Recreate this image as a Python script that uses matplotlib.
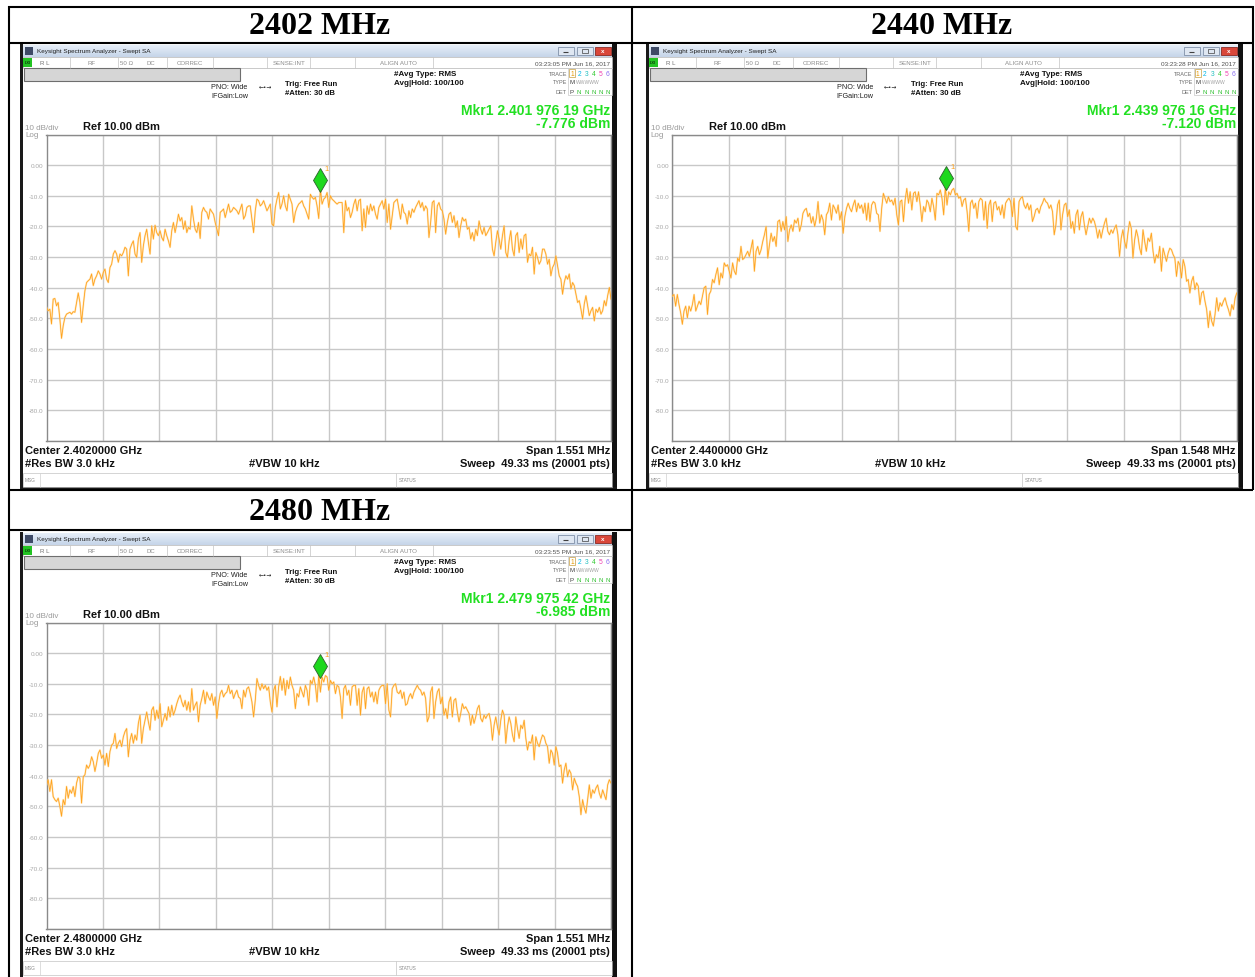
import numpy as np
import matplotlib
matplotlib.use('Agg')
import matplotlib.pyplot as plt
from matplotlib.patches import Rectangle
from matplotlib.colors import LinearSegmentedColormap
import matplotlib.transforms as mtransforms

titles = ['2402 MHz', '2440 MHz', '2480 MHz']
center_ghz = [2.402, 2.440, 2.480]
span_mhz = [1.551, 1.548, 1.551]
mkr_ghz = [2.40197619, 2.43997616, 2.47997542]
mkr_dbm = [-7.776, -7.120, -6.985]
mkr_text = ['2.401 976 19 GHz', '2.439 976 16 GHz', '2.479 975 42 GHz']
stamps = ['03:23:05 PM Jun 16, 2017', '03:23:28 PM Jun 16, 2017', '03:23:55 PM Jun 16, 2017']
ytick_vals = [10, 0, -10, -20, -30, -40, -50, -60, -70, -80, -90]
ytick_text = ['', '0.00', '-10.0', '-20.0', '-30.0', '-40.0', '-50.0', '-60.0', '-70.0', '-80.0', '']

trace_2402 = [
    -46.4, -47.5, -47.0, -51.8, -43.7, -43.5, -45.9, -44.8, -50.2, -56.5,
    -52.4, -49.7, -48.6, -48.3, -48.0, -48.6, -47.8, -48.0, -44.8, -41.7,
    -44.8, -51.3, -45.9, -41.0, -38.3, -37.7, -37.2, -35.5, -39.3, -37.2,
    -36.1, -34.5, -35.5, -37.2, -35.0, -33.9, -37.2, -38.3, -33.4, -32.3,
    -29.0, -27.9, -29.0, -31.7, -29.0, -29.6, -28.5, -26.8, -27.4, -36.1,
    -27.4, -25.8, -24.7, -29.0, -30.1, -24.1, -22.0, -31.7, -26.3, -23.0,
    -20.9, -25.2, -29.0, -19.8, -24.1, -19.6, -22.0, -23.0, -21.4, -23.6,
    -24.7, -20.9, -23.0, -24.7, -26.8, -21.4, -18.7, -22.0, -19.2, -16.0,
    -18.2, -17.1, -20.9, -18.2, -22.0, -20.3, -20.9, -13.3, -17.6, -20.9,
    -22.0, -18.7, -23.9, -15.4, -13.8, -14.9, -15.4, -17.6, -14.3, -15.2,
    -16.0, -18.7, -20.9, -23.0, -15.4, -14.9, -14.3, -17.1, -14.9, -12.7,
    -15.4, -14.9, -13.8, -14.3, -14.9, -16.0, -14.3, -12.7, -17.6, -16.5,
    -13.8, -13.3, -13.3, -17.6, -22.0, -14.9, -11.1, -11.6, -13.3, -12.7,
    -11.6, -13.3, -14.9, -13.8, -12.7, -19.2, -19.8, -13.8, -11.1, -8.9,
    -14.3, -12.7, -10.0, -13.3, -14.9, -9.5, -11.1, -12.7, -18.7, -15.4,
    -13.8, -12.7, -12.2, -11.6, -13.3, -14.3, -16.0, -17.6, -9.5, -10.5,
    -11.1, -10.5, -13.3, -17.4, -7.8, -12.7, -11.1, -10.5, -8.9, -13.8,
    -10.0, -11.1, -11.6, -12.2, -12.7, -12.2, -12.2,
    -12.2, -22.0, -11.6, -14.9, -13.8, -17.1, -15.4, -12.7, -11.1, -14.9,
    -11.6, -11.1, -21.4, -14.3, -20.3, -13.3, -16.0, -12.7, -14.9, -13.3,
    -16.0, -17.6, -13.8, -12.7, -11.6, -14.3, -11.1, -18.7, -12.7, -20.9,
    -16.5, -12.2, -11.6, -11.1, -14.3, -17.6, -12.7, -15.4, -16.0, -19.2,
    -14.9, -17.1, -14.3, -15.4, -13.8, -12.7, -11.6, -13.8, -12.2, -14.9,
    -13.3, -14.3, -23.6, -18.7, -12.2, -11.6, -22.0, -13.3, -12.2, -14.3,
    -14.9, -17.6, -22.5, -18.7, -16.0, -15.4, -18.7, -16.5, -20.3, -18.2,
    -23.6, -19.8, -17.1, -18.2, -17.6, -20.9, -20.3, -24.1, -22.0, -24.7,
    -20.9, -23.0, -18.2, -20.9, -22.5, -20.3, -23.0, -22.0, -20.9, -19.8,
    -27.4, -29.6, -25.2, -21.4, -24.1, -27.4, -23.0, -19.8, -28.5, -30.1,
    -24.7, -21.4, -27.4, -29.6, -23.0, -22.0, -28.5, -24.1, -27.4, -23.0,
    -22.5, -31.7, -29.0, -29.6, -26.8, -35.5, -28.5, -30.1, -32.3, -31.2,
    -27.4, -27.4, -29.0, -32.3, -30.7, -36.1, -33.4, -32.3, -29.6, -32.8,
    -36.1, -37.2, -42.1, -38.3, -36.1, -37.2, -35.5, -40.4, -38.3, -39.3,
    -42.1, -44.8, -44.2, -47.0, -50.2, -45.3, -42.6, -45.9, -49.1, -47.5,
    -46.4, -50.8, -47.0, -48.0, -46.4, -48.6, -47.5, -44.2, -45.9, -42.6,
    -39.9, -43.7,
]

trace_2440 = [
    -42.7, -42.2, -46.0, -42.2, -45.5, -48.2, -51.9, -47.6,
    -46.0, -49.8, -46.0, -47.6, -45.5, -42.2, -47.6, -46.0, -44.4, -45.5,
    -42.7, -40.0, -39.5, -48.7, -42.2, -41.1, -37.3, -38.4, -35.7, -33.5,
    -39.0, -35.2, -36.8, -31.9, -33.0, -32.5, -34.6, -36.8, -31.9, -34.6,
    -35.7, -30.3, -31.4, -26.5, -30.8, -30.3, -29.2, -28.1, -29.8, -27.1,
    -24.4, -34.6, -28.1, -26.5, -29.2, -27.6, -24.9, -22.7, -20.0, -30.3,
    -26.0, -22.2, -24.9, -23.3, -26.5, -18.4, -17.9, -21.6, -18.4, -21.1,
    -16.8, -24.9, -21.1, -19.5, -21.6, -17.9, -18.9, -17.3, -21.6, -19.5,
    -15.7, -14.6, -14.1, -16.8, -15.7, -18.9, -16.8, -20.0, -17.3, -11.9,
    -18.9, -16.2, -17.9, -22.7, -16.2, -15.2, -12.4, -17.9, -13.0, -14.1,
    -15.7, -13.0, -17.9, -15.2, -22.2, -16.8, -14.1, -12.4, -14.1, -15.2,
    -13.0, -11.4, -15.2, -12.4, -14.1, -13.0, -15.7, -12.4, -17.9, -12.4,
    -18.4, -13.0, -11.9, -12.4, -15.7, -16.2, -21.6, -14.1, -9.2, -10.8,
    -12.4, -10.3, -11.9, -11.4, -13.0, -10.8, -16.2, -19.5, -11.9, -11.4,
    -18.4, -11.4, -7.6, -12.4, -8.7, -14.6, -9.2, -8.7, -11.9, -8.7,
    -13.0, -18.4, -13.5, -15.2, -11.4, -12.4, -15.2, -10.8, -13.5, -17.9,
    -9.2, -9.7, -8.1, -10.8, -16.2, -7.1, -13.0, -8.7, -9.7, -8.1,
    -7.6, -9.7,
    -9.2, -10.8, -10.3, -13.5, -11.4, -10.8, -15.2, -21.6, -12.4, -11.4,
    -14.1, -12.4, -17.3, -11.9, -10.8, -11.4, -17.9, -11.9, -20.6, -13.0,
    -11.4, -18.4, -12.4, -11.9, -14.6, -13.5, -16.2, -13.0, -17.3, -12.4,
    -11.4, -10.8, -11.9, -16.8, -10.8, -20.0, -21.1, -11.9, -10.8, -10.3,
    -13.0, -14.1, -12.4, -14.6, -13.0, -18.4, -16.8, -14.6, -14.1, -15.7,
    -13.5, -12.4, -10.8, -11.9, -12.4, -14.1, -13.0, -15.2, -22.7, -19.5,
    -13.0, -11.4, -21.1, -16.2, -13.0, -12.4, -16.8, -14.6, -20.6, -18.4,
    -22.2, -16.2, -14.6, -21.1, -16.8, -15.2, -19.5, -22.7, -20.0, -17.3,
    -18.9, -17.3, -18.4, -20.6, -23.8, -21.1, -23.8, -21.1, -18.9, -17.3,
    -21.6, -22.7, -21.1, -22.2, -20.6, -19.5, -22.7, -29.8, -23.8, -21.1,
    -24.9, -27.1, -22.2, -18.4, -20.6, -30.3, -24.4, -21.1, -23.3, -27.1,
    -29.2, -21.1, -24.9, -28.1, -23.8, -24.9, -22.2, -28.1, -31.9, -29.2,
    -30.3, -26.5, -34.6, -27.1, -29.2, -31.4, -28.7, -27.1, -27.6, -29.2,
    -30.3, -36.3, -31.4, -32.5, -36.8, -30.8, -33.0, -37.9, -37.3, -41.7,
    -37.9, -36.3, -40.6, -38.4, -39.5, -45.5, -41.7, -41.1, -44.4, -47.1,
    -53.0, -47.6, -50.9, -52.5, -48.7, -43.3, -47.6, -44.9, -46.0, -44.4,
    -43.3, -45.5, -47.1, -49.2, -45.5, -47.1, -43.3, -41.7,
]

trace_2480 = [
    -43.0, -41.3, -45.1, -41.3, -46.8, -47.8, -48.4, -47.3, -50.0, -53.2,
    -47.8, -49.5, -43.5, -47.3, -44.6, -45.7, -43.5, -46.8, -42.4, -40.3,
    -40.8, -48.9, -40.3, -39.7,
    -36.5, -37.6, -36.5, -33.8, -35.4, -38.6, -35.9, -32.7, -31.6, -34.3,
    -33.2, -36.5, -32.7, -37.0, -32.1, -30.0, -29.4, -26.2, -31.1, -29.4,
    -28.4, -30.5, -27.3, -25.6, -24.6, -33.8, -28.4, -26.2, -29.4, -26.7,
    -28.4, -22.9, -20.2, -29.4, -24.6, -21.9, -19.2, -22.4, -25.1, -18.6,
    -17.5, -21.9, -18.6, -21.3, -16.5, -24.0, -21.9, -19.7, -21.9, -17.5,
    -20.8, -17.0, -20.2, -18.6, -16.5, -14.8, -13.7, -15.9, -17.5, -15.4,
    -18.6, -15.9, -19.2, -11.6, -18.6, -17.0, -15.9, -22.4, -17.0, -14.8,
    -12.1, -16.5, -12.7, -14.3, -15.4, -13.2, -17.0, -14.3, -21.3, -16.5,
    -13.2, -12.1, -14.3, -13.2, -12.7, -10.5, -13.2, -12.1, -14.8, -13.2,
    -12.1, -14.3, -14.8, -18.1, -12.1, -14.3, -11.6, -11.0, -13.2, -15.9,
    -20.8, -15.4, -8.3, -10.5, -12.1, -10.0, -11.6, -10.5, -12.1, -11.0,
    -15.9, -19.2, -12.1, -10.5, -17.5, -11.0, -7.6, -12.1, -8.3, -13.7,
    -8.9, -11.6, -7.8, -10.5, -12.1, -18.1, -13.2, -14.3, -11.0, -12.7,
    -14.3, -10.5, -12.1, -17.0, -8.9, -10.0, -7.8, -10.5, -15.9, -7.0,
    -12.7, -7.8, -9.4, -7.3, -7.8, -12.1,
    -8.9, -10.0, -9.4, -13.2, -10.5, -11.0, -14.3, -21.3, -11.6, -10.5,
    -13.7, -12.1, -17.0, -11.0, -10.5, -10.5, -17.0, -11.6, -20.2, -12.7,
    -11.0, -18.1, -11.6, -11.0, -14.3, -12.7, -15.9, -12.7, -16.5, -12.1,
    -11.0, -10.5, -10.5, -16.5, -10.0, -18.6, -20.8, -11.6, -10.5, -10.0,
    -12.7, -13.2, -12.1, -14.8, -12.7, -17.0, -16.5, -14.3, -13.2, -14.8,
    -12.7, -11.6, -10.5, -11.6, -12.1, -13.7, -12.7, -14.8, -22.4, -20.8,
    -12.7, -11.0, -21.3, -15.9, -12.7, -11.6, -16.5, -14.3, -20.2, -18.1,
    -21.3, -15.9, -14.3, -20.8, -15.4, -14.8, -19.2, -22.4, -19.7, -16.5,
    -18.1, -17.5, -18.6, -19.7, -23.5, -20.2, -22.9, -20.8, -18.1, -17.0,
    -21.3, -22.4, -20.2, -21.3, -20.2, -19.7, -22.4, -28.4, -23.5, -20.8,
    -24.0, -26.7, -21.9, -18.6, -20.2, -29.4, -24.0, -20.8, -22.9, -26.7,
    -28.9, -20.8, -24.6, -27.8, -23.5, -24.6, -21.9, -27.8, -31.6, -28.9,
    -29.4, -26.7, -34.8, -27.3, -29.4, -30.5, -28.4, -26.7, -27.3, -29.4,
    -30.5, -35.9, -31.6, -32.7, -36.5, -30.5, -32.7, -37.0, -36.5, -42.4,
    -38.1, -35.9, -40.3, -38.1, -39.2, -44.6, -40.8, -42.4, -43.5, -46.8,
    -52.7, -47.8, -50.5, -52.2, -47.8, -43.0, -47.3, -44.6, -45.7, -44.0,
    -43.0, -45.7, -47.3, -44.6, -46.2, -47.8, -43.0, -41.3, -42.4,
]

traces = [trace_2402, trace_2440, trace_2480]

W, H = 1255, 978
SANS = 'Liberation Sans'
GREY = '#8c8c8c'

fig = plt.figure(figsize=(W / 100, H / 100), dpi=100)
base = fig.add_axes([0, 0, 1, 1])
base.axis('off')


def rect(x, y, w, h, fc='none', ec='none', lw=0, z=2):
    base.add_patch(Rectangle((x, y), w, h, facecolor=fc, edgecolor=ec, linewidth=lw, zorder=z))


def txt(x, y, s, size=6, color='black', weight='normal', ha='left', family=SANS, z=5):
    base.text(x, y, s, fontsize=size, color=color, fontweight=weight, ha=ha, va='center',
              family=family, zorder=z)


def line(xs, ys, color='black', lw=1.0, z=3):
    base.plot(xs, ys, color=color, lw=lw, solid_capstyle='butt', zorder=z)


bar_cmap = LinearSegmentedColormap.from_list('bar', ['#e6eef8', '#c6d5e9'])


def draw_screen(k, ox, oy):
    X = lambda v: v + ox
    Y = lambda v: v + oy
    # dark window frame and white body
    rect(X(20), Y(45), 597, 446, fc='white', z=1)
    rect(X(20), Y(45), 3, 446, fc='#1a1a1a')
    rect(X(612), Y(45), 5, 446, fc='#111111')
    if oy == 0:
        rect(X(20), Y(488), 597, 3, fc='#1a1a1a')

    # title bar
    base.imshow(np.linspace(0, 1, 16)[:, None], cmap=bar_cmap, aspect='auto', zorder=2,
                extent=(X(23), X(612), Y(58), Y(46)))
    rect(X(25), Y(48), 8, 8, fc='#3e4a66')
    txt(X(37), Y(52), 'Keysight Spectrum Analyzer - Swept SA', 4.6, '#1e1e1e')
    for bx, fc, ec in [(558, '#dfe7f2', '#8090a8'), (577, '#dfe7f2', '#8090a8'), (595, '#d9473a', '#8a2a22')]:
        rect(X(bx), Y(47.5), 16, 8.5, fc=fc, ec=ec, lw=0.6, z=3)
    line([X(563), X(568)], [Y(53), Y(53)], '#404040', 0.8, z=4)
    rect(X(582), Y(49.5), 6, 4.5, ec='#404040', lw=0.5, z=4)
    txt(X(603), Y(51.5), 'x', 4.5, 'white', 'bold', ha='center')

    # status row
    rect(X(23), Y(58), 589, 10.5, fc='white', ec='#b4b4b4', lw=0.5)
    rect(X(23), Y(59), 9, 8.5, fc='#22c322')
    txt(X(27.5), Y(63.5), 'LXI', 2.8, '#0a3a0a', 'bold', ha='center')
    for sx in [70, 118, 167, 213, 267, 310, 355, 433]:
        line([X(sx), X(sx)], [Y(58), Y(68.5)], '#c4c4c4', 0.5)
    txt(X(40), Y(63.5), 'R L', 4.4, '#707070')
    txt(X(92), Y(63.5), 'RF', 4.4, GREY, ha='center')
    txt(X(127), Y(63.5), '50 \u03a9', 4.4, GREY, ha='center')
    txt(X(151), Y(63.5), 'DC', 4.4, GREY, ha='center')
    txt(X(190), Y(63.5), 'CORREC', 4.4, GREY, ha='center')
    txt(X(289), Y(63.5), 'SENSE:INT', 4.4, GREY, ha='center')
    txt(X(398), Y(63.5), 'ALIGN AUTO', 4.4, GREY, ha='center')
    txt(X(610), Y(63.5), stamps[k], 4.6, '#505050', ha='right')

    # settings block
    rect(X(24), Y(69), 216, 12.5, fc='#d6d6d6', ec='#6e6e6e', lw=0.8)
    txt(X(211), Y(87.5), 'PNO: Wide', 5.2, '#202020')
    txt(X(211), Y(96), 'IFGain:Low', 5.2, '#202020')
    txt(X(265), Y(87), '\u2190\u2022\u2192', 4.2, '#202020', ha='center', family='DejaVu Sans')
    txt(X(285), Y(84), 'Trig: Free Run', 5.6, '#111111', 'bold')
    txt(X(285), Y(93.5), '#Atten: 30 dB', 5.6, '#111111', 'bold')
    txt(X(394), Y(74), '#Avg Type: RMS', 5.8, '#111111', 'bold')
    txt(X(394), Y(83.5), 'Avg|Hold: 100/100', 5.8, '#111111', 'bold')

    # trace table
    rect(X(568), Y(69), 44, 27, ec='#c8c8c8', lw=0.5)
    txt(X(567), Y(74), 'TRACE', 4.0, '#6a6a6a', ha='right')
    txt(X(567), Y(83), 'TYPE', 4.0, '#6a6a6a', ha='right')
    txt(X(567), Y(92), 'DET', 4.0, '#6a6a6a', ha='right')
    num_colors = ['#e89a00', '#00b8e8', '#22c0c0', '#2cc82c', '#f040b0', '#8a6cf0']
    rect(X(569), Y(70), 6, 8, ec='#c8a040', lw=0.5)
    for i, c in enumerate(num_colors):
        txt(X(572 + i * 7.2), Y(74.5), str(i + 1), 4.8, c, ha='center')
    txt(X(572), Y(83), 'M', 4.4, '#404040', ha='center')
    txt(X(576), Y(83), 'WWWWW', 3.6, '#a0a0a0')
    txt(X(572), Y(92), 'P', 4.4, '#404040', ha='center')
    for i in range(5):
        txt(X(579.2 + i * 7.2), Y(92), 'N', 4.4, '#30c030', ha='center')

    # marker readout
    txt(X(610), Y(111), 'Mkr1 ' + mkr_text[k], 10, '#22e022', 'bold', ha='right')
    txt(X(610), Y(124.5), '%.3f dBm' % mkr_dbm[k], 10, '#22e022', 'bold', ha='right')
    txt(X(25), Y(128.5), '10 dB/div', 5.8, '#9a9a9a')
    txt(X(25), Y(135.5), 'Log', 5.8, '#9a9a9a')
    txt(X(83), Y(127.5), 'Ref 10.00 dBm', 8, '#111111', 'bold')

    # footer
    txt(X(25), Y(451), 'Center %.7f GHz' % center_ghz[k], 8, '#111111', 'bold')
    txt(X(610), Y(451), 'Span %.3f MHz' % span_mhz[k], 8, '#111111', 'bold', ha='right')
    txt(X(25), Y(464), '#Res BW 3.0 kHz', 8, '#111111', 'bold')
    txt(X(249), Y(464), '#VBW 10 kHz', 8, '#111111', 'bold')
    txt(X(610), Y(464), 'Sweep  49.33 ms (20001 pts)', 8, '#111111', 'bold', ha='right')
    rect(X(23), Y(474), 589, 14, ec='#c4c4c4', lw=0.5)
    line([X(40), X(40)], [Y(474), Y(488)], '#d0d0d0', 0.5)
    line([X(396), X(396)], [Y(474), Y(488)], '#c4c4c4', 0.5)
    txt(X(25), Y(481), 'MSG', 3.4, '#8a8a8a')
    txt(X(399), Y(481), 'STATUS', 3.4, '#8a8a8a')

    # spectrum plot area
    left, top, right, bottom = X(46.5), Y(135.5), X(611), Y(442)
    ax = fig.add_axes([left / W, 1 - bottom / H, (right - left) / W, (bottom - top) / H])
    half = span_mhz[k] / 2000.0
    lo, hi = center_ghz[k] - half, center_ghz[k] + half
    ax.set_xlim(lo, hi)
    ax.set_ylim(-90, 10)
    ax.set_xticks(np.linspace(lo, hi, 11))
    ax.set_xticklabels([])
    ax.set_yticks(ytick_vals)
    ax.set_yticklabels(ytick_text, fontsize=4.6, color='#a8a8a8', family=SANS)
    ax.tick_params(length=0, pad=2)
    ax.grid(True, color='#c8c8c8', lw=1.0)
    for sp in ax.spines.values():
        sp.set_color('#8a8a8a')
        sp.set_linewidth(1.0)
    tr = traces[k]
    freqs = np.linspace(lo, hi, len(tr))
    ax.plot(freqs, tr, color='#ffd58a', lw=1.4, alpha=0.55, zorder=3)
    ax.plot(freqs, tr, color='#ffa31f', lw=0.6, zorder=4)
    up = mtransforms.offset_copy(ax.transData, fig=fig, x=0, y=9, units='dots')
    ax.plot([mkr_ghz[k]], [mkr_dbm[k]], marker='d', ms=12, mfc='#1ed81e', mec='#2d5f2d',
            mew=0.6, transform=up, zorder=6, clip_on=False)
    lab = mtransforms.offset_copy(ax.transData, fig=fig, x=7, y=20, units='dots')
    ax.text(mkr_ghz[k], mkr_dbm[k], '1', fontsize=5.5, color='#ffa21a', transform=lab,
            ha='center', va='center', family=SANS, zorder=6)


# ---- table frame and headers ----
LW = 1.5
line([8, 1253], [7.5, 7.5], lw=LW)
line([8, 1253], [44, 44], lw=LW)
line([8, 1253], [491, 491], lw=LW)
line([8, 632], [531, 531], lw=LW)
line([8.5, 8.5], [7, 978], lw=LW)
line([632, 632], [7, 978], lw=LW)
line([1252.5, 1252.5], [7, 491], lw=LW)
txt(320, 26, titles[0], 23, 'black', 'bold', ha='center', family='Liberation Serif')
txt(942, 26, titles[1], 23, 'black', 'bold', ha='center', family='Liberation Serif')
txt(320, 513, titles[2], 23, 'black', 'bold', ha='center', family='Liberation Serif')

offsets = [(0, 0), (625.8, 0), (0, 488)]
for k, (ox, oy) in enumerate(offsets):
    draw_screen(k, ox, oy)

base.set_xlim(0, W)
base.set_ylim(H, 0)
fig.savefig('out.png', dpi=100, facecolor='white')
